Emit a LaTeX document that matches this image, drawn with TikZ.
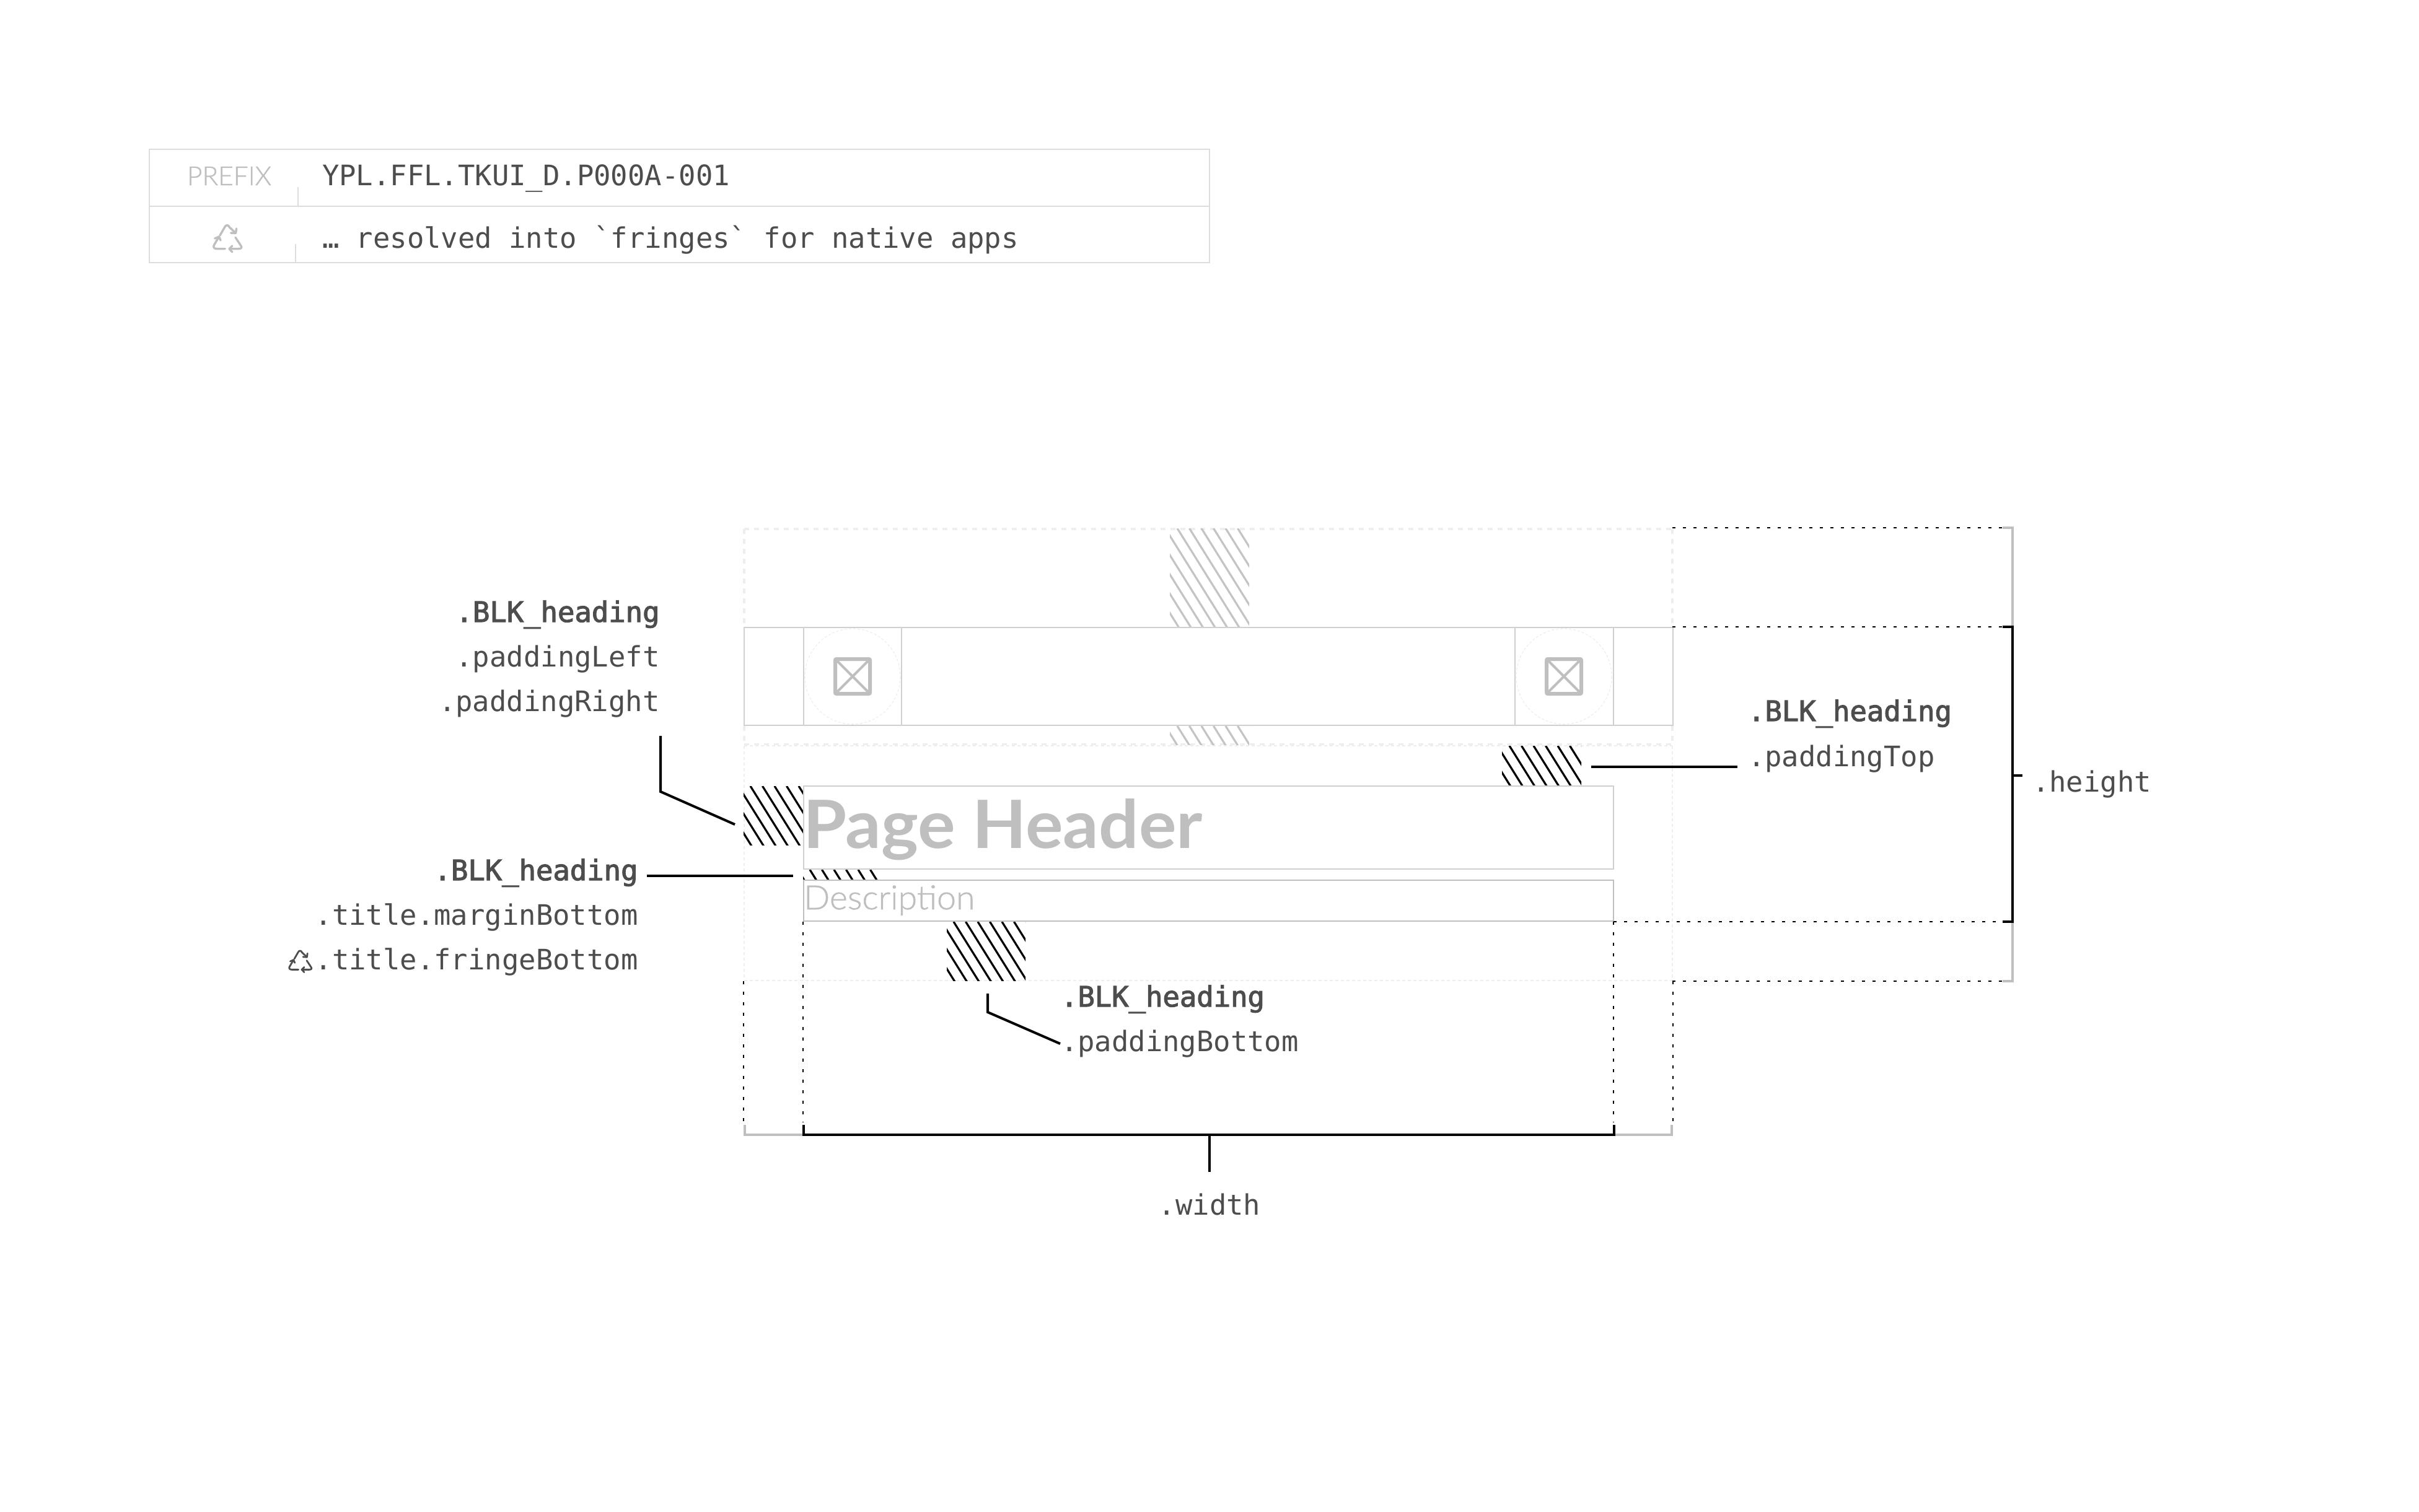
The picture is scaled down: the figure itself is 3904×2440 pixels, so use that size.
\documentclass[tikz,border=0pt]{standalone}
\usepackage{fontspec}
\setmainfont{Lato}
\newfontfamily\monoreg{DejaVu Sans Mono}
\newfontfamily\monomed{DejaVu Sans Mono}[FakeBold=2.5]
\newfontfamily\lato{Lato}
\newfontfamily\latolight{Lato Light}[FakeBold=1]
\definecolor{ink}{HTML}{4D4D4D}
\definecolor{rowgray}{HTML}{D0D0D0}
\definecolor{tablegray}{HTML}{DDDDDD}
\definecolor{midgray}{HTML}{BFBFBF}
\definecolor{hatchgray}{HTML}{C4C4C4}
\definecolor{faint}{HTML}{EEEEEE}
\usetikzlibrary{calc}
\tikzset{
  x=1bp,y=-1bp,
  rowline/.style={draw=rowgray,line width=2bp},
  tableline/.style={draw=tablegray,line width=2bp},
  faintdash/.style={draw=faint,line width=3.2bp,dash pattern=on 8bp off 8bp},
  faintfine/.style={draw=faint,line width=1.5bp,dash pattern=on 5bp off 4bp},
  blackdot/.style={draw=black,line width=1.1bp,dash pattern=on 5bp off 12bp},
  leader/.style={draw=black,line width=4bp,line join=miter},
  shade/.style={draw=midgray,line width=4bp},
  lbl/.style={font=\monoreg\fontsize{45.7}{55}\selectfont,text=ink,inner sep=0pt,outer sep=0pt},
  lblb/.style={font=\monomed\fontsize{45.7}{55}\selectfont,text=ink,inner sep=0pt,outer sep=0pt},
  ring/.style={draw=faint,line width=1.2bp,dash pattern=on 4bp off 3bp},
}
% recycle icon: x, y, colour, scale, stroke
\newcommand{\recycleicon}[5]{%
  \begin{scope}[shift={(#1,#2)},scale=#4,draw=#3,line width=#5,line cap=round,line join=round]
    \draw (-12.5,-5) -- (-5,-18) .. controls (-3,-22.5) and (1,-22.5) .. (3,-18) -- (12.5,-9);
    \draw (5,-9) -- (13,-8.5) -- (14,-16);
    \draw (12.5,-1.7) -- (21.5,12) .. controls (23.5,15) and (21.5,16.7) .. (17.5,16.7) -- (2.5,16.7);
    \draw (7.5,11.7) -- (2.5,16.7) -- (7.5,22);
    \draw (-4.2,16.7) -- (-17.5,16.7) .. controls (-22,16.7) and (-24,14) .. (-22,10.5) -- (-14.5,-2);
    \draw (-20.8,0) -- (-14,-3) -- (-11.5,3);
  \end{scope}}
% hatch: x1 y1 x2 y2 colour, x where a line meets the top edge
\newcommand{\hatchfill}[6]{%
  \begin{scope}
    \clip (#1,#2) rectangle (#3,#4);
    \foreach \k in {-20,...,20}
      \draw[#5,line width=3.2bp] ({#6+\k*19.5},#2) -- ++(150,240);
  \end{scope}}
\begin{document}
\begin{tikzpicture}
\useasboundingbox (0,0) rectangle (3904,2440);
\fill[white] (0,0) rectangle (3904,2440);

% ---- table
\draw[tableline] (240.5,240.5) rectangle (1952,424);
\draw[tableline] (240.5,332.5) -- (1952,332.5);
\draw[tableline] (480.5,302) -- (480.5,332);
\draw[tableline] (476.5,394) -- (476.5,424);
\node[anchor=base,inner sep=0pt,font=\latolight\fontsize{42.5}{50}\selectfont,text=midgray] (prefix) at (370,299) {PREFIX};
\node[lbl,anchor=base west] (code) at (520,299) {YPL.FFL.TKUI\_D.P000A-001};
\node[lbl,anchor=base west] (note) at (520,400) {… resolved into `fringes` for native apps};
\recycleicon{367.5}{385}{midgray}{1}{3.4bp}

% ---- faint guide lines
\draw[faintdash] (1201,854) -- (2699,854);
\draw[faintdash] (1201,854) -- (1201,1012);
\draw[faintdash] (2699,854) -- (2699,1012);
\draw[faintdash] (1201,1172) -- (1201,1203);
\draw[faintdash] (2699,1172) -- (2699,1203);
\draw[faintdash] (1201,1201.5) -- (2699,1201.5);
\draw[faintfine] (1201,1204) -- (2699,1204);
\draw[faintfine] (1201,1204) -- (1201,1583);
\draw[faintfine] (2699,1204) -- (2699,1583);
\draw[faintfine] (1201,1583) -- (2699,1583);

% ---- hatches
\hatchfill{1888}{853}{2016}{1012}{hatchgray}{1900}
\hatchfill{1888}{1172}{2016}{1202}{hatchgray}{1900}

% ---- row
\draw[rowline] (1201,1013) rectangle (2700,1171);
\draw[rowline] (1297,1013) -- (1297,1171);
\draw[rowline] (1455,1013) -- (1455,1171);
\draw[rowline] (2445,1013) -- (2445,1171);
\draw[rowline] (2604,1013) -- (2604,1171);
\draw[ring] (1376,1092) circle (77);
\draw[ring] (2524,1092) circle (77);
\draw[midgray,line width=6bp,rounded corners=2bp] (1348,1064) rectangle (1404,1120);
\draw[midgray,line width=4bp] (1348,1064) -- (1404,1120) (1404,1064) -- (1348,1120);
\draw[midgray,line width=6bp,rounded corners=2bp] (2496,1064) rectangle (2552,1120);
\draw[midgray,line width=4bp] (2496,1064) -- (2552,1120) (2552,1064) -- (2496,1120);

% ---- title and description
\hatchfill{2424}{1204}{2552}{1268}{black}{2436}
\hatchfill{1200}{1269}{1296}{1364}{black}{1211}
\hatchfill{1296}{1404}{1418}{1420}{black}{1307}
\hatchfill{1528}{1488}{1655}{1583}{black}{1539}
\draw[rowline] (1297,1269) rectangle (2604,1403);
\draw[draw=midgray,line width=2bp] (1297,1421) rectangle (2604,1487);
\node[anchor=base west,inner sep=0pt,text=midgray] (title) at (1296,1369) {\scalebox{1.055}[1]{\lato\bfseries\fontsize{108}{120}\selectfont Page Header}};
\node[anchor=base west,inner sep=0pt,text=midgray] (desc) at (1297,1468) {\scalebox{1.03}[1]{\latolight\fontsize{54}{64}\selectfont Description}};

% ---- black dotted guides
\draw[blackdot] (2699,852) -- (3232,852);
\draw[blackdot] (2699,1012) -- (3232,1012);
\draw[blackdot] (2604,1488) -- (3232,1488);
\draw[blackdot] (2699,1584) -- (3232,1584);
\draw[blackdot] (1296,1488) -- (1296,1812);
\draw[blackdot] (1200,1584) -- (1200,1812);
\draw[blackdot] (2604,1488) -- (2604,1812);
\draw[blackdot] (2700,1584) -- (2700,1812);

% ---- brackets
\draw[shade] (3232,852) -- (3248,852) -- (3248,1012);
\draw[shade] (3248,1488) -- (3248,1584) -- (3232,1584);
\draw[shade] (1202,1816) -- (1202,1832) -- (1296,1832);
\draw[shade] (2604,1832) -- (2698,1832) -- (2698,1816);
\coordinate (hT) at (3232,1012);
\coordinate (hB) at (3232,1488);
\coordinate (hTick) at (3264,1252);
\draw[leader] (hT) -- (3248,1012) -- (3248,1488) -- (hB);
\draw[leader] (3248,1252) -- (hTick);
\coordinate (wL) at (1297,1816);
\coordinate (wR) at (2605,1816);
\coordinate (wStem) at (1952,1892);
\draw[leader] (wL) -- (1297,1832) -- (2605,1832) -- (wR);
\draw[leader] (1952,1832) -- (wStem);

% ---- labels
\node[lblb,anchor=base east] (a1) at (1064.5,1004) {.BLK\_heading};
\node[lbl,anchor=base east]  (a2) at (1064.5,1076) {.paddingLeft};
\node[lbl,anchor=base east]  (a3) at (1064.5,1148) {.paddingRight};
\node[lblb,anchor=base east] (b1) at (1029.5,1421) {.BLK\_heading};
\node[lbl,anchor=base east]  (b2) at (1029.5,1493) {.title.marginBottom};
\node[lbl,anchor=base east]  (b3) at (1029.5,1565) {.title.fringeBottom};
\recycleicon{485}{1552}{ink}{0.8}{2.8bp}
\node[lblb,anchor=base west] (c1) at (1712,1625) {.BLK\_heading};
\node[lbl,anchor=base west]  (c2) at (1712,1697) {.paddingBottom};
\node[lblb,anchor=base west] (d1) at (2821,1164) {.BLK\_heading};
\node[lbl,anchor=base west]  (d2) at (2821,1237) {.paddingTop};
\node[lbl,anchor=base west]  (h1) at (3280,1278) {.height};
\node[lbl,anchor=base]       (w1) at (1952,1961) {.width};

% ---- leaders
\coordinate (l1a) at (1066,1188);
\coordinate (l1b) at (1066,1278);
\coordinate (l1c) at (1186,1331);
\draw[leader] (l1a) -- (l1b) -- (l1c);
\coordinate (l2a) at (1044,1414);
\coordinate (l2b) at (1280,1414);
\draw[leader] (l2a) -- (l2b);
\coordinate (l3a) at (1594,1604);
\coordinate (l3b) at (1594,1634);
\coordinate (l3c) at (1711,1685);
\draw[leader] (l3a) -- (l3b) -- (l3c);
\coordinate (l4a) at (2568,1238);
\coordinate (l4b) at (2804,1238);
\draw[leader] (l4a) -- (l4b);
\end{tikzpicture}
\end{document}
